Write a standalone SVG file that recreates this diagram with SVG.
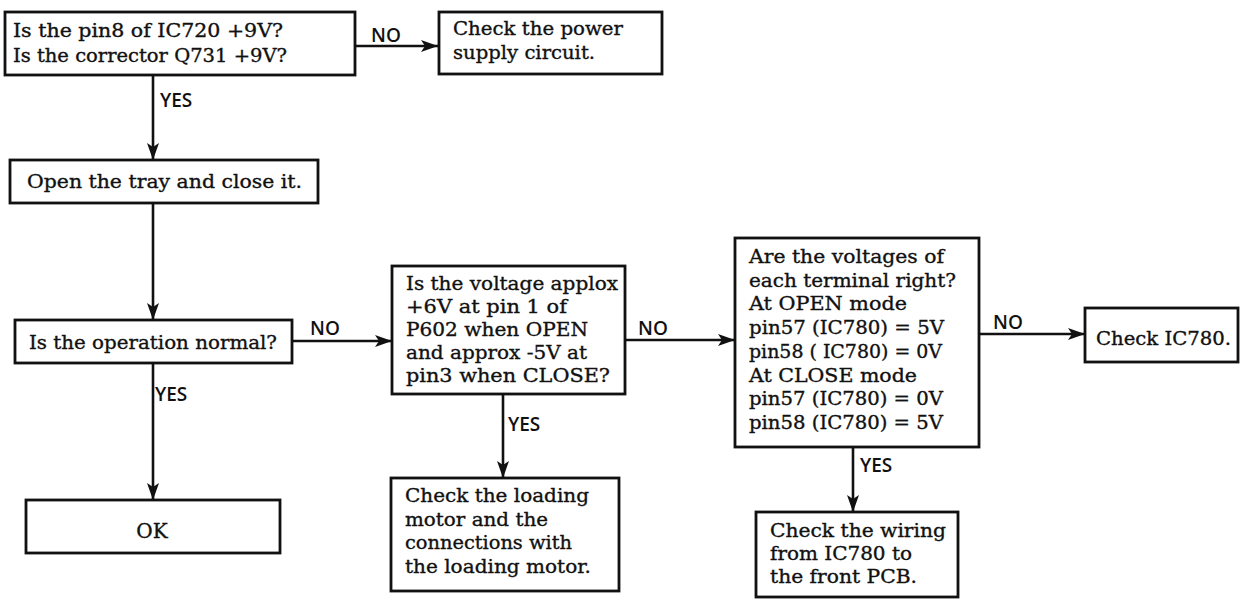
<svg xmlns="http://www.w3.org/2000/svg" width="1240" height="600" viewBox="0 0 1240 600">
<defs>
<marker id="arr" markerUnits="userSpaceOnUse" markerWidth="18" markerHeight="13" refX="17" refY="6.5" orient="auto">
<path d="M0,0.5 L17,6.5 L0,12.5 L4,6.5 Z" fill="#111"/>
</marker>
<style>
.box{fill:#fff;stroke:#111;stroke-width:2.8}
.t{font-family:"DejaVu Serif","Liberation Serif",serif;font-size:19px;fill:#111;stroke:#111;stroke-width:0.35}
.lb{font-family:"Open Sans","DejaVu Sans",sans-serif;font-size:19px;font-weight:600;fill:#111}
.c{fill:none;stroke:#111;stroke-width:2.6}
</style>
</defs>
<rect width="1240" height="600" fill="#fff"/>
<g id="connectors">
<line class="c" x1="355" y1="46" x2="438" y2="46" marker-end="url(#arr)"/>
<line class="c" x1="153" y1="75" x2="153" y2="160" marker-end="url(#arr)"/>
<line class="c" x1="153" y1="203" x2="153" y2="320" marker-end="url(#arr)"/>
<line class="c" x1="153" y1="363" x2="153" y2="500" marker-end="url(#arr)"/>
<line class="c" x1="292" y1="341" x2="392" y2="341" marker-end="url(#arr)"/>
<line class="c" x1="625" y1="340" x2="735" y2="340" marker-end="url(#arr)"/>
<line class="c" x1="503" y1="394" x2="503" y2="478" marker-end="url(#arr)"/>
<line class="c" x1="979" y1="334" x2="1085" y2="334" marker-end="url(#arr)"/>
<line class="c" x1="853" y1="447" x2="853" y2="512" marker-end="url(#arr)"/>
<text class="lb" x="371" y="42">NO</text>
<text class="lb" x="160" y="107">YES</text>
<text class="lb" x="310" y="335">NO</text>
<text class="lb" x="155" y="401">YES</text>
<text class="lb" x="638" y="335">NO</text>
<text class="lb" x="508" y="431">YES</text>
<text class="lb" x="993" y="329">NO</text>
<text class="lb" x="860" y="472">YES</text>
</g>
<g id="n1">
<rect class="box" x="5" y="12" width="350" height="63"/>
<text class="t" x="13" y="37" textLength="270" lengthAdjust="spacingAndGlyphs">Is the pin8 of IC720 +9V?</text>
<text class="t" x="13" y="62" textLength="274" lengthAdjust="spacingAndGlyphs">Is the corrector Q731  +9V?</text>
</g>
<g id="n2">
<rect class="box" x="439" y="12" width="223" height="62"/>
<text class="t" x="453" y="35" textLength="170" lengthAdjust="spacingAndGlyphs">Check the power</text>
<text class="t" x="453" y="59" textLength="142" lengthAdjust="spacingAndGlyphs">supply circuit.</text>
</g>
<g id="n3">
<rect class="box" x="10" y="160" width="308" height="43"/>
<text class="t" x="27" y="188" textLength="275" lengthAdjust="spacingAndGlyphs">Open the tray and close it.</text>
</g>
<g id="n4">
<rect class="box" x="15" y="320" width="277" height="43"/>
<text class="t" x="29" y="349" textLength="248" lengthAdjust="spacingAndGlyphs">Is the operation normal?</text>
</g>
<g id="n5">
<rect class="box" x="26" y="500" width="254" height="53"/>
<text class="t" x="152" y="538" text-anchor="middle" style="font-size:20px">OK</text>
</g>
<g id="n6">
<rect class="box" x="392" y="266" width="233" height="128"/>
<text class="t" x="406" y="290" textLength="212" lengthAdjust="spacingAndGlyphs">Is the voltage applox</text>
<text class="t" x="406" y="313" textLength="161" lengthAdjust="spacingAndGlyphs">+6V at pin 1 of</text>
<text class="t" x="406" y="336" textLength="182" lengthAdjust="spacingAndGlyphs">P602 when OPEN</text>
<text class="t" x="406" y="359" textLength="181" lengthAdjust="spacingAndGlyphs">and approx -5V at</text>
<text class="t" x="406" y="382" textLength="204" lengthAdjust="spacingAndGlyphs">pin3 when CLOSE?</text>
</g>
<g id="n7">
<rect class="box" x="391" y="478" width="228" height="113"/>
<text class="t" x="405" y="502" textLength="184" lengthAdjust="spacingAndGlyphs">Check the loading</text>
<text class="t" x="405" y="526" textLength="143" lengthAdjust="spacingAndGlyphs">motor and the</text>
<text class="t" x="405" y="549" textLength="167" lengthAdjust="spacingAndGlyphs">connections with</text>
<text class="t" x="405" y="573" textLength="186" lengthAdjust="spacingAndGlyphs">the loading motor.</text>
</g>
<g id="n8">
<rect class="box" x="735" y="238" width="244" height="209"/>
<text class="t" x="749" y="263" textLength="195" lengthAdjust="spacingAndGlyphs">Are the voltages of</text>
<text class="t" x="749" y="286.7" textLength="207" lengthAdjust="spacingAndGlyphs">each terminal right?</text>
<text class="t" x="749" y="310.4" textLength="158" lengthAdjust="spacingAndGlyphs">At OPEN mode</text>
<text class="t" x="749" y="334" textLength="195" lengthAdjust="spacingAndGlyphs">pin57 (IC780) = 5V</text>
<text class="t" x="749" y="357.8" textLength="193" lengthAdjust="spacingAndGlyphs">pin58 ( IC780) = 0V</text>
<text class="t" x="749" y="381.5" textLength="168" lengthAdjust="spacingAndGlyphs">At CLOSE mode</text>
<text class="t" x="749" y="405" textLength="194" lengthAdjust="spacingAndGlyphs">pin57 (IC780) = 0V</text>
<text class="t" x="749" y="429" textLength="194" lengthAdjust="spacingAndGlyphs">pin58 (IC780) = 5V</text>
</g>
<g id="n9">
<rect class="box" x="1085" y="308" width="153" height="54"/>
<text class="t" x="1096" y="345" textLength="135" lengthAdjust="spacingAndGlyphs">Check IC780.</text>
</g>
<g id="n10">
<rect class="box" x="756" y="512" width="202" height="85"/>
<text class="t" x="770" y="537" textLength="176" lengthAdjust="spacingAndGlyphs">Check the wiring</text>
<text class="t" x="770" y="560" textLength="142" lengthAdjust="spacingAndGlyphs">from IC780 to</text>
<text class="t" x="770" y="583" textLength="147" lengthAdjust="spacingAndGlyphs">the front PCB.</text>
</g>
</svg>
